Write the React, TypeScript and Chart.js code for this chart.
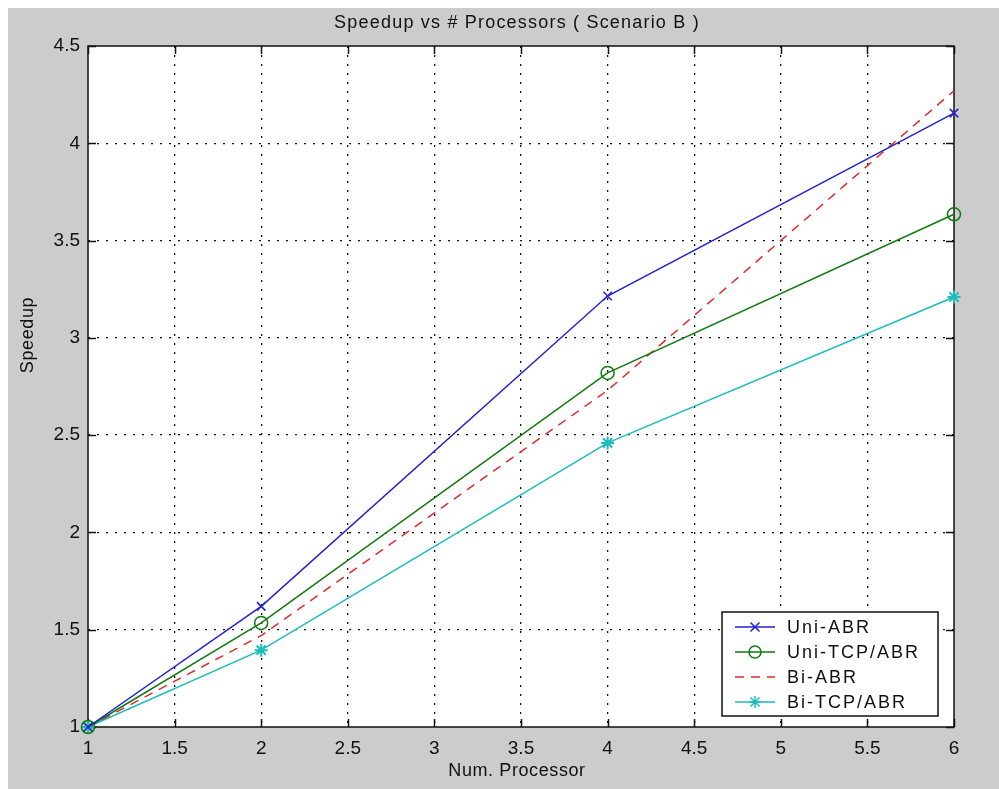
import React, { useEffect, useRef } from "react";
import { Chart, registerables } from "chart.js";

Chart.register(...registerables);

const xValues = [1, 2, 4, 6];
const uniABR = [1, 1.62, 3.215, 4.155];
const uniTcpABR = [1, 1.535, 2.82, 3.635];
const biABR = [1, 1.47, 2.73, 4.27];
const biTcpABR = [1, 1.395, 2.46, 3.21];

const xTicks = [1, 1.5, 2, 2.5, 3, 3.5, 4, 4.5, 5, 5.5, 6];
const yTicks = [1, 1.5, 2, 2.5, 3, 3.5, 4, 4.5];

const seriesNames = ["Uni-ABR", "Uni-TCP/ABR", "Bi-ABR", "Bi-TCP/ABR"];
const titleText = "Speedup vs # Processors ( Scenario B )";
const xTitle = "Num. Processor";
const yTitle = "Speedup";

const BLUE = "#2222d0";
const GREEN = "#107a10";
const RED = "#e02c2c";
const CYAN = "#1cbcbc";
const FONT = "'Liberation Sans', Arial, sans-serif";

function drawMarker(ctx: CanvasRenderingContext2D, style: string, x: number, y: number, r: number, color: string) {
  ctx.save();
  ctx.strokeStyle = color;
  ctx.lineWidth = 1.5;
  ctx.setLineDash([]);
  ctx.beginPath();
  if (style === "crossRot") {
    const d = r * 0.75;
    ctx.moveTo(x - d, y - d); ctx.lineTo(x + d, y + d);
    ctx.moveTo(x + d, y - d); ctx.lineTo(x - d, y + d);
  } else if (style === "circle") {
    ctx.arc(x, y, r, 0, Math.PI * 2);
  } else if (style === "star") {
    const d = r * 0.75;
    ctx.moveTo(x - r, y); ctx.lineTo(x + r, y);
    ctx.moveTo(x, y - r); ctx.lineTo(x, y + r);
    ctx.moveTo(x - d, y - d); ctx.lineTo(x + d, y + d);
    ctx.moveTo(x + d, y - d); ctx.lineTo(x - d, y + d);
  }
  ctx.stroke();
  ctx.restore();
}

const matlabPlugin = {
  id: "matlabLook",
  beforeDraw(chart: any) {
    const { ctx, width, height, chartArea: a } = chart;
    ctx.save();
    ctx.fillStyle = "#cccccc";
    ctx.fillRect(0, 0, width, height);
    ctx.fillStyle = "#ffffff";
    ctx.fillRect(a.left, a.top, a.right - a.left, a.bottom - a.top);
    ctx.restore();
  },
  beforeDatasetsDraw(chart: any) {
    const { ctx, chartArea: a } = chart;
    const xs = chart.scales.x;
    const ys = chart.scales.y;
    ctx.save();
    ctx.setLineDash([]);
    ctx.strokeStyle = "#111";
    ctx.lineWidth = 1.5;
    ctx.strokeRect(a.left, a.top, a.right - a.left, a.bottom - a.top);
    const tl = 8;
    ctx.beginPath();
    xTicks.forEach((v) => {
      const px = Math.round(xs.getPixelForValue(v)) + 0.5;
      ctx.moveTo(px, a.bottom); ctx.lineTo(px, a.bottom - tl);
      ctx.moveTo(px, a.top); ctx.lineTo(px, a.top + tl);
    });
    yTicks.forEach((v) => {
      const py = Math.round(ys.getPixelForValue(v)) + 0.5;
      ctx.moveTo(a.left, py); ctx.lineTo(a.left + tl, py);
      ctx.moveTo(a.right, py); ctx.lineTo(a.right - tl, py);
    });
    ctx.stroke();
    ctx.restore();
  },
  afterDraw(chart: any) {
    const { ctx } = chart;
    ctx.save();
    ctx.fillStyle = "#111";
    ctx.textAlign = "center";
    ctx.textBaseline = "middle";
    // title
    ctx.font = `18px ${FONT}`;
    (ctx as any).letterSpacing = "1.2px";
    ctx.fillText(titleText, 509, 15);
    // x title
    ctx.font = `18px ${FONT}`;
    (ctx as any).letterSpacing = "0.6px";
    ctx.fillText(xTitle, 509, 763);
    // y title
    ctx.save();
    ctx.translate(20, 327);
    ctx.rotate(-Math.PI / 2);
    ctx.fillText(yTitle, 0, 0);
    ctx.restore();

    // legend
    const lx = 714, ly = 604, lw = 216, lh = 104;
    ctx.fillStyle = "#ffffff";
    ctx.fillRect(lx, ly, lw, lh);
    ctx.strokeStyle = "#111";
    ctx.lineWidth = 1.5;
    ctx.setLineDash([]);
    ctx.strokeRect(lx, ly, lw, lh);
    const entries = [
      { name: seriesNames[0], color: BLUE, dash: [] as number[], marker: "crossRot" },
      { name: seriesNames[1], color: GREEN, dash: [] as number[], marker: "circle" },
      { name: seriesNames[2], color: RED, dash: [9, 7], marker: "" },
      { name: seriesNames[3], color: CYAN, dash: [] as number[], marker: "star" },
    ];
    ctx.font = `18px ${FONT}`;
    (ctx as any).letterSpacing = "2px";
    ctx.textAlign = "left";
    entries.forEach((e, i) => {
      const cy = 619 + i * 25;
      ctx.strokeStyle = e.color;
      ctx.lineWidth = 1.5;
      ctx.setLineDash(e.dash);
      ctx.beginPath();
      ctx.moveTo(727, cy);
      ctx.lineTo(767, cy);
      ctx.stroke();
      if (e.marker) drawMarker(ctx, e.marker, 747, cy, 6, e.color);
      ctx.fillStyle = "#111";
      ctx.fillText(e.name, 779, cy + 1);
    });
    ctx.restore();
  },
};

export default function App() {
  const ref = useRef<HTMLCanvasElement | null>(null);
  useEffect(() => {
    if (!ref.current) return;
    const mk = (ys: number[]) => xValues.map((x, i) => ({ x, y: ys[i] }));
    const chart = new Chart(ref.current, {
      type: "line",
      data: {
        datasets: [
          {
            label: seriesNames[0], data: mk(uniABR), borderColor: BLUE, backgroundColor: BLUE,
            borderWidth: 1.5, pointStyle: "crossRot", pointRadius: 6, pointBorderWidth: 1.5, clip: false as any,
          },
          {
            label: seriesNames[1], data: mk(uniTcpABR), borderColor: GREEN, backgroundColor: "rgba(0,0,0,0)",
            borderWidth: 1.5, pointStyle: "circle", pointRadius: 6.5, pointBorderWidth: 1.5, clip: false as any,
          },
          {
            label: seriesNames[2], data: mk(biABR), borderColor: RED, backgroundColor: RED,
            borderWidth: 1.5, borderDash: [9, 7], pointRadius: 0, clip: false as any,
          },
          {
            label: seriesNames[3], data: mk(biTcpABR), borderColor: CYAN, backgroundColor: CYAN,
            borderWidth: 1.5, pointStyle: "star", pointRadius: 6.5, pointBorderWidth: 2, clip: false as any,
          },
        ],
      },
      options: {
        animation: false,
        responsive: false,
        devicePixelRatio: 1,
        layout: { padding: { left: 0, right: 45, top: 38, bottom: 0 } },
        plugins: { legend: { display: false }, title: { display: false }, tooltip: { enabled: false } },
        elements: { line: { tension: 0 } },
        scales: {
          x: {
            type: "linear", min: 1, max: 6,
            afterBuildTicks: (s: any) => { s.ticks = xTicks.map((v) => ({ value: v })); },
            afterFit: (s: any) => { s.height = 62; },
            ticks: {
              color: "#111", font: { size: 19, family: FONT }, padding: 10, maxRotation: 0, autoSkip: false,
              callback: (v: any) => String(v),
            },
            grid: {
              color: (c: any) => (c.tick && (c.tick.value === 1 || c.tick.value === 6) ? "rgba(0,0,0,0)" : "#111"),
              lineWidth: 1.3, drawTicks: false,
            },
            border: { display: false, dash: [2, 7] },
          },
          y: {
            type: "linear", min: 1, max: 4.5,
            afterBuildTicks: (s: any) => { s.ticks = yTicks.map((v) => ({ value: v })); },
            afterFit: (s: any) => { s.width = 80; },
            ticks: {
              color: "#111", font: { size: 19, family: FONT }, padding: 8, autoSkip: false,
              callback: (v: any) => String(v),
            },
            grid: {
              color: (c: any) => (c.tick && (c.tick.value === 1 || c.tick.value === 4.5) ? "rgba(0,0,0,0)" : "#111"),
              lineWidth: 1.3, drawTicks: false,
            },
            border: { display: false, dash: [2, 7] },
          },
        },
      },
      plugins: [matlabPlugin],
    });
    return () => chart.destroy();
  }, []);
  return (
    <div style={{ position: "fixed", left: 8, top: 8, width: 991, height: 781 }}>
      <canvas ref={ref} width={991} height={781} style={{ display: "block" }} />
    </div>
  );
}
